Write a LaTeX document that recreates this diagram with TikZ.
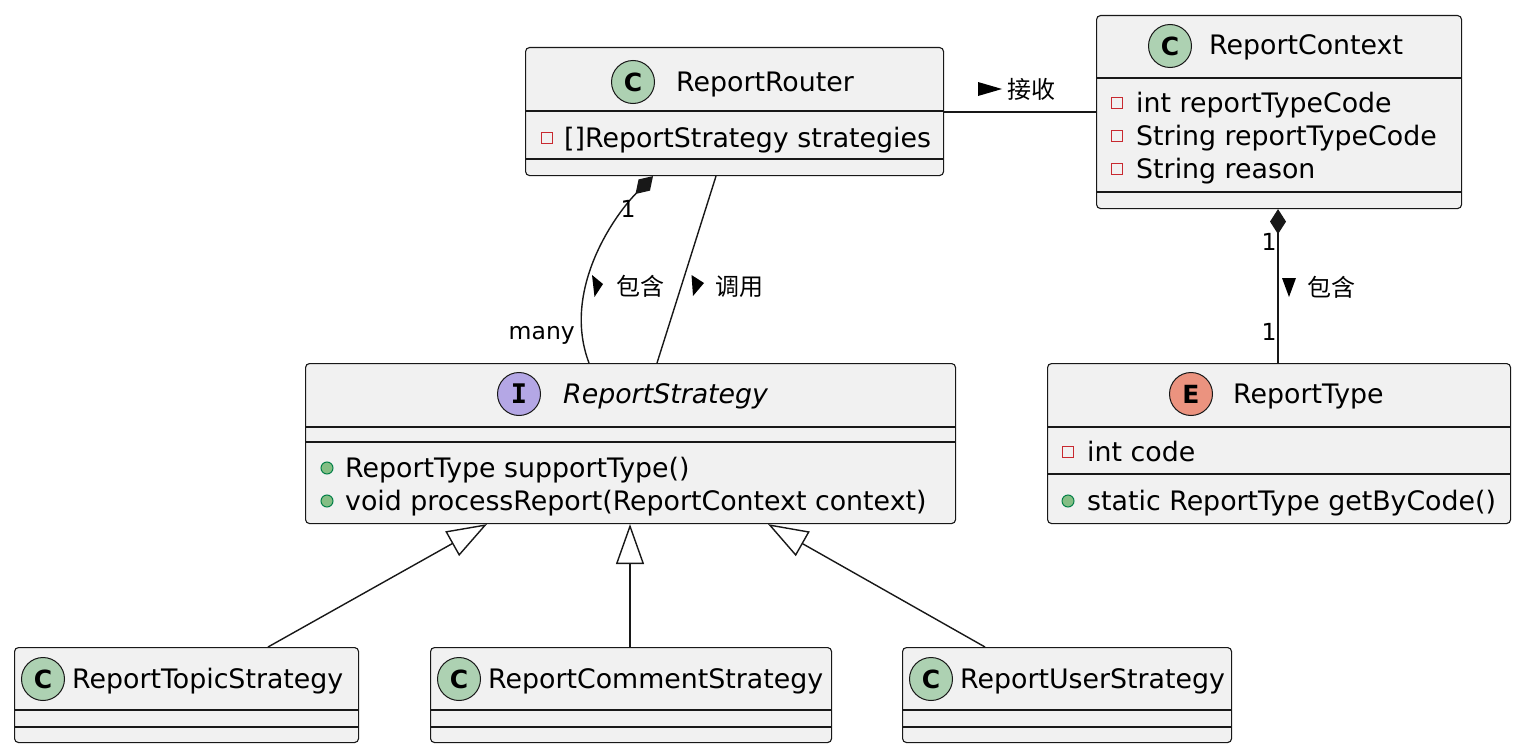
\documentclass[tikz,border=0pt]{standalone}
\usepackage{fontspec}
\setmainfont{DejaVu Sans}
\newfontfamily\cjkfont{Noto Sans CJK SC}
\newfontfamily\monobold{DejaVu Sans Mono}
\usetikzlibrary{arrows.meta,calc}
\definecolor{boxfill}{HTML}{F1F1F1}
\definecolor{lineC}{HTML}{181818}
\definecolor{spotC}{HTML}{ADD1B2}
\definecolor{spotI}{HTML}{B4A7E5}
\definecolor{spotE}{HTML}{EB937F}
\definecolor{privred}{HTML}{C82930}
\definecolor{pubfill}{HTML}{84BE84}
\definecolor{publine}{HTML}{038048}
\begin{document}
\begin{tikzpicture}[x=1bp,y=-1bp,
  cbox/.style={draw=lineC, fill=boxfill, line width=1.1bp, rounded corners=4bp, anchor=north west, inner sep=0pt},
  div/.style={draw=lineC, line width=1.1bp},
  txt/.style={anchor=base west, inner sep=0pt, font=\fontsize{26.8bp}{30bp}\selectfont},
  ttl/.style={anchor=base west, inner sep=0pt, font=\fontsize{26.8bp}{30bp}\selectfont},
  lbl/.style={anchor=base, inner sep=0pt, font=\fontsize{23.5bp}{26bp}\selectfont},
  cjklbl/.style={anchor=base west, inner sep=0pt, font=\cjkfont\fontsize{24bp}{26bp}\selectfont},
  spot/.style={circle, draw=lineC, line width=1bp, minimum size=43bp, inner sep=0pt, font=\bfseries\fontsize{25bp}{25bp}\selectfont},
  priv/.style={draw=privred, line width=1.2bp, minimum size=11bp, inner sep=0pt},
  pub/.style={circle, draw=publine, fill=pubfill, line width=1bp, minimum size=12bp, inner sep=0pt},
  edge/.style={draw=lineC, line width=1.4bp},
  comp/.style={edge, {Diamond[length=25bp,width=16bp,fill=lineC]}-},
  gen/.style={edge, -{Triangle[open,length=40bp,width=28bp]}},
  tri/.style={fill=black}
]
\fill[white] (0,0) rectangle (1522,754);
\useasboundingbox (0,0) rectangle (1522,754);

% ---------- ReportRouter ----------
\node[cbox, minimum width=418bp, minimum height=128bp] (router) at (525,47) {};
\draw[div] (router.west |- 0,111) -- (router.east |- 0,111);
\draw[div] (router.west |- 0,159) -- (router.east |- 0,159);
\node[spot, fill=spotC] (routerS) at (633,82) {C};
\node[ttl] (routerT) at (676,91) {ReportRouter};
\node[priv] (routerP1) at (547,138) {};
\node[txt] (routerA1) at (564,147) {[]ReportStrategy strategies};

% ---------- ReportContext ----------
\node[cbox, minimum width=365bp, minimum height=193bp] (context) at (1096,15) {};
\draw[div] (context.west |- 0,78) -- (context.east |- 0,78);
\draw[div] (context.west |- 0,192) -- (context.east |- 0,192);
\node[spot, fill=spotC] (contextS) at (1170,46) {C};
\node[ttl] (contextT) at (1209,55) {ReportContext};
\node[priv] (contextP1) at (1117,103) {};
\node[txt] (contextA1) at (1136,112) {int reportTypeCode};
\node[priv] (contextP2) at (1117,136) {};
\node[txt] (contextA2) at (1136,145) {String reportTypeCode};
\node[priv] (contextP3) at (1117,169) {};
\node[txt] (contextA3) at (1136,178) {String reason};

% ---------- ReportStrategy ----------
\node[cbox, minimum width=650bp, minimum height=160bp] (strat) at (305,363) {};
\draw[div] (strat.west |- 0,427) -- (strat.east |- 0,427);
\draw[div] (strat.west |- 0,442) -- (strat.east |- 0,442);
\node[spot, fill=spotI, font=\monobold\bfseries\fontsize{27bp}{27bp}\selectfont] (stratS) at (519,394) {I};
\node[ttl, font=\itshape\fontsize{26.8bp}{30bp}\selectfont] (stratT) at (563,403) {ReportStrategy};
\node[pub] (stratM1p) at (327,468) {};
\node[txt] (stratM1) at (345,477) {ReportType supportType()};
\node[pub] (stratM2p) at (327,501) {};
\node[txt] (stratM2) at (345,510) {void processReport(ReportContext context)};

% ---------- ReportType ----------
\node[cbox, minimum width=463bp, minimum height=160bp] (rtype) at (1047,363) {};
\draw[div] (rtype.west |- 0,427) -- (rtype.east |- 0,427);
\draw[div] (rtype.west |- 0,474) -- (rtype.east |- 0,474);
\node[spot, fill=spotE] (rtypeS) at (1191,394) {E};
\node[ttl] (rtypeT) at (1233,403) {ReportType};
\node[priv] (rtypeP1) at (1068,452) {};
\node[txt] (rtypeA1) at (1087,461) {int code};
\node[pub] (rtypeM1p) at (1068,501) {};
\node[txt] (rtypeM1) at (1087,510) {static ReportType getByCode()};

% ---------- bottom classes ----------
\node[cbox, minimum width=344bp, minimum height=95bp] (topic) at (14,647) {};
\draw[div] (topic.west |- 0,710) -- (topic.east |- 0,710);
\draw[div] (topic.west |- 0,727) -- (topic.east |- 0,727);
\node[spot, fill=spotC] (topicS) at (43,679) {C};
\node[ttl] (topicT) at (72,688) {ReportTopicStrategy};

\node[cbox, minimum width=401bp, minimum height=95bp] (comment) at (430,647) {};
\draw[div] (comment.west |- 0,710) -- (comment.east |- 0,710);
\draw[div] (comment.west |- 0,727) -- (comment.east |- 0,727);
\node[spot, fill=spotC] (commentS) at (459,679) {C};
\node[ttl] (commentT) at (488,688) {ReportCommentStrategy};

\node[cbox, minimum width=329bp, minimum height=95bp] (user) at (902,647) {};
\draw[div] (user.west |- 0,710) -- (user.east |- 0,710);
\draw[div] (user.west |- 0,727) -- (user.east |- 0,727);
\node[spot, fill=spotC] (userS) at (931,679) {C};
\node[ttl] (userT) at (960,688) {ReportUserStrategy};

% ---------- connectors ----------
% Router -> Context
\draw[edge] (router.east |- 0,112) -- (context.west |- 0,112);
\fill[tri] (978,82) -- (1002,89) -- (978,96) -- cycle;
\node[cjklbl] (lblRecv) at (1007,98) {接收};

% Router *-- Strategy (contains)
\draw[comp] (router.south -| 653,0) .. controls (612,218) and (562,292) .. (strat.north -| 589,0);
\node[lbl] (m1) at (628,217) {1};
\node[lbl, anchor=base east] (mmany) at (575,339) {many};
\fill[tri] (592,275) -- (603,284) -- (594.5,297) -- cycle;
\node[cjklbl] (lblCont1) at (616,295) {包含};

% Router -- Strategy (calls)
\draw[edge] (router.south -| 716,0) -- (strat.north -| 657,0);
\fill[tri] (691.5,275) -- (704,283) -- (693,296) -- cycle;
\node[cjklbl] (lblCall) at (715,295) {调用};

% Context *-- ReportType
\draw[comp] (context.south -| 1278,0) -- (rtype.north -| 1278,0);
\node[lbl] (m2) at (1269,250) {1};
\node[lbl] (m3) at (1269,340) {1};
\fill[tri] (1282,278) -- (1296,278) -- (1289,297) -- cycle;
\node[cjklbl] (lblCont2) at (1307,296) {包含};

% realizations
\draw[gen] (topic.north -| 268,0) -- (strat.south -| 487,0);
\draw[gen] (comment.north -| 630,0) -- (strat.south -| 630,0);
\draw[gen] (user.north -| 985,0) -- (strat.south -| 768,0);
\end{tikzpicture}
\end{document}
